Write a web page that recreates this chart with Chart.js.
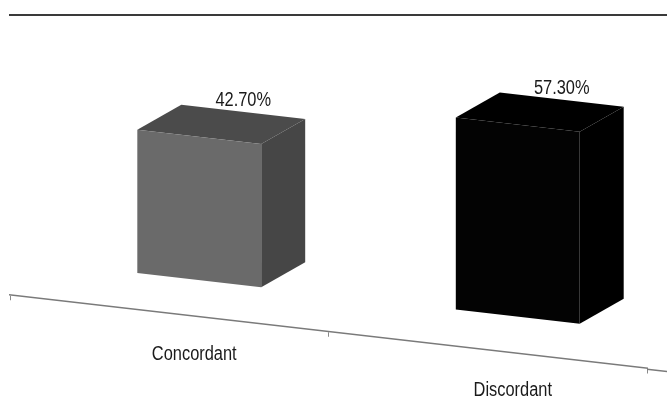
<!DOCTYPE html>
<html>
<head>
<meta charset="utf-8">
<script src="https://cdn.jsdelivr.net/npm/chart.js@4.4.0/dist/chart.umd.min.js"></script>
<style>
  html, body { margin: 0; padding: 0; background: #fff; overflow: hidden; }
  #wrap { position: relative; width: 667px; height: 399px; }
  #linhaTopo { position: absolute; left: 9px; right: 0; top: 14px; border-top: 2px solid #3a3a3a; }
  canvas { display: block; }
</style>
</head>
<body>
<div id="wrap">
  <div id="linhaTopo"></div>
  <canvas id="grafico" width="667" height="399"></canvas>
</div>
<script>
const categorias = ['Concordant', 'Discordant'];
const valores = [42.7, 57.3];
const rotulos = ['42.70%', '57.30%'];
const coresFrente = ['#6a6a6a', '#030303'];
const coresTopo = ['#4b4b4b', '#000000'];
const coresLado = ['#464646', '#000000'];

const inclinacao = 0.115;             // chão inclinado
const profundidade = { x: 44, y: -30 };
const recuo = 30;                     // barras recuadas da borda da frente
const fonte = "'Liberation Sans', Arial, sans-serif";
const condensa = 0.82;                // fonte estreita

// converte coordenada do gráfico (inclinado) para a tela
function paraTela(x, y) {
  return { x: x, y: y + inclinacao * x };
}

function textoEstreito(ctx, txt, x, y) {
  ctx.save();
  ctx.translate(x, y);
  ctx.scale(condensa, 1);
  ctx.fillText(txt, 0, 0);
  ctx.restore();
}

const plugin3d = {
  id: 'barras3d',
  beforeDraw(chart) {
    chart.ctx.save();
    chart.ctx.transform(1, inclinacao, 0, 1, 0, 0);
  },
  afterDatasetsDraw(chart) {
    const ctx = chart.ctx;
    const area = chart.chartArea;
    // prolonga a linha do eixo até a borda
    ctx.strokeStyle = '#7a7a7a';
    ctx.lineWidth = 1.5;
    ctx.beginPath();
    ctx.moveTo(area.right, area.bottom + 0.75);
    ctx.lineTo(chart.width, area.bottom + 0.75);
    ctx.stroke();

    const meta = chart.getDatasetMeta(0);
    meta.data.forEach((barra, i) => {
      const { x, y, base, width } = barra.getProps(['x', 'y', 'base', 'width'], true);
      const l = x - width / 2 + recuo, r = x + width / 2 + recuo;
      const dx = profundidade.x, dy = profundidade.y;
      // topo
      ctx.fillStyle = coresTopo[i];
      ctx.beginPath();
      ctx.moveTo(l, y); ctx.lineTo(l + dx, y + dy); ctx.lineTo(r + dx, y + dy); ctx.lineTo(r, y);
      ctx.closePath(); ctx.fill();
      // lado
      ctx.fillStyle = coresLado[i];
      ctx.beginPath();
      ctx.moveTo(r, y); ctx.lineTo(r + dx, y + dy); ctx.lineTo(r + dx, base + dy); ctx.lineTo(r, base);
      ctx.closePath(); ctx.fill();
      // frente
      ctx.fillStyle = coresFrente[i];
      ctx.fillRect(l, y, r - l, base - y);
    });
  },
  afterDraw(chart) {
    const ctx = chart.ctx;
    ctx.restore();
    const meta = chart.getDatasetMeta(0);
    const escalaX = chart.scales.x;
    ctx.save();
    ctx.fillStyle = '#1a1a1a';
    ctx.textAlign = 'center';
    ctx.textBaseline = 'middle';
    // rótulos de valor
    ctx.font = '20px ' + fonte;
    meta.data.forEach((barra, i) => {
      const { x, y } = barra.getProps(['x', 'y'], true);
      const p = paraTela(x + recuo + profundidade.x, y + profundidade.y);
      textoEstreito(ctx, rotulos[i], p.x, p.y - 11);
    });
    // rótulos das categorias
    categorias.forEach((cat, i) => {
      const cx = escalaX.getPixelForValue(i) + 25;
      const p = paraTela(cx, chart.chartArea.bottom);
      textoEstreito(ctx, cat, p.x, p.y + 38);
    });
    ctx.restore();
  }
};

const ctx = document.getElementById('grafico').getContext('2d');
new Chart(ctx, {
  type: 'bar',
  data: {
    labels: categorias,
    datasets: [{
      data: valores,
      backgroundColor: 'rgba(0,0,0,0)',
      barPercentage: 0.389,
      categoryPercentage: 1
    }]
  },
  options: {
    responsive: false,
    animation: false,
    devicePixelRatio: 1,
    layout: { padding: { left: 10, right: 20, top: 56, bottom: 100 } },
    plugins: {
      legend: { display: false },
      tooltip: { enabled: false }
    },
    scales: {
      x: {
        grid: { display: true, drawOnChartArea: false, tickLength: 5, color: '#8a8a8a', offset: true },
        border: { display: true, color: '#7a7a7a', width: 1.5 },
        ticks: { display: false }
      },
      y: { display: false, min: -11, max: 60 }
    }
  },
  plugins: [plugin3d]
});
</script>
</body>
</html>
